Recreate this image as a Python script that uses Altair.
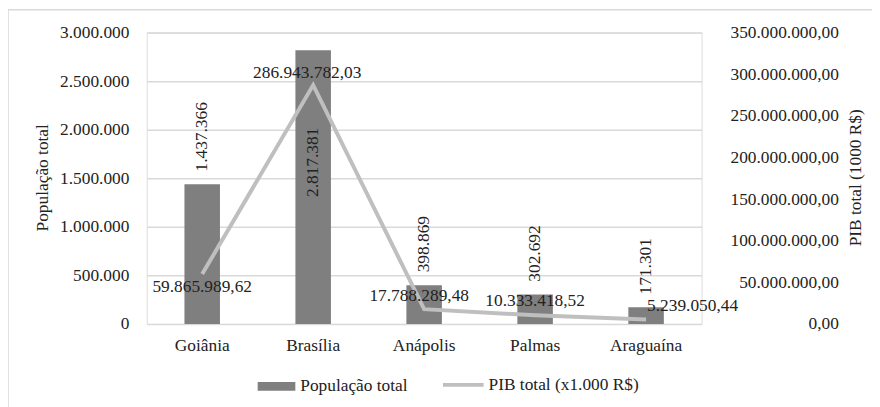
import altair as alt
import pandas as pd

cidades = ["Goiânia", "Brasília", "Anápolis", "Palmas", "Araguaína"]
populacao = [1437366, 2817381, 398869, 302692, 171301]
pib = [59865989.62, 286943782.03, 17788289.48, 10333418.52, 5239050.44]
pop_ticks = [0, 500000, 1000000, 1500000, 2000000, 2500000, 3000000]
pib_ticks = [0, 50000000, 100000000, 150000000, 200000000, 250000000, 300000000, 350000000]
serie_pop = "População total"
serie_pib = "PIB total (x1.000 R$)"
titulo_esq = "População total"
titulo_dir = "PIB total (1000 R$)"

df = pd.DataFrame({"cidade": cidades, "pop": populacao, "pib": pib})

FONT = "Liberation Serif"
TXT = "#222222"
FS = 17.5
BAR = "#7F7F7F"
LINE = "#BFBFBF"
GRID = "#D9D9D9"

x_axis = alt.Axis(title=None, labelAngle=0, domain=False, ticks=False, labelPadding=13,
                  labelFontSize=FS, labelFont=FONT, labelColor=TXT)
x_enc = alt.X("cidade:N", sort=cidades,
              scale=alt.Scale(paddingInner=0.68, paddingOuter=0.34), axis=x_axis)

pop_axis = alt.Axis(values=pop_ticks, format=",d", grid=True, gridColor=GRID, gridWidth=1.5,
                    domain=False, ticks=False, labelPadding=18, labelFontSize=FS,
                    labelFont=FONT, labelColor=TXT, title=titulo_esq, titleFont=FONT,
                    titleFontSize=FS, titleFontWeight="normal", titleColor=TXT,
                    titleAngle=270, titleX=-105, titleY=146, titleAlign="center",
                    titleBaseline="middle")
y_pop = alt.Y("pop:Q", scale=alt.Scale(domain=[0, 3000000], nice=False), axis=pop_axis)

pib_axis = alt.Axis(orient="right", values=pib_ticks, format=",.2f", grid=False, domain=False,
                    ticks=False, labelAlign="right", labelPadding=138, labelFontSize=FS,
                    labelFont=FONT, labelColor=TXT, title=titulo_dir, titleFont=FONT,
                    titleFontSize=FS, titleFontWeight="normal", titleColor=TXT,
                    titleAngle=270, titleX=155, titleY=146, titleAlign="center",
                    titleBaseline="middle")
y_pib = alt.Y("pib:Q", scale=alt.Scale(domain=[0, 350000000], nice=False), axis=pib_axis)

base = alt.Chart(df)

bars = base.mark_bar().encode(
    x=x_enc, y=y_pop,
    fill=alt.Fill("s1:N", scale=alt.Scale(range=[BAR]),
                  legend=alt.Legend(title=None, orient="none", legendX=112, legendY=338,
                                    symbolType="M-1,-0.237H1V0.237H-1Z", symbolSize=1444,
                                    symbolStrokeWidth=0, labelFontSize=FS, labelFont=FONT,
                                    labelColor=TXT, labelOffset=5)),
).transform_calculate(s1="'" + serie_pop + "'")

txt_kw = dict(font=FONT, fontSize=FS, color=TXT)
bar_lbl = base.mark_text(angle=270, align="left", baseline="middle", dx=13, **txt_kw).encode(
    x=x_enc, y=y_pop, text=alt.Text("pop:Q", format=",d")
).transform_filter(alt.datum.cidade != "Brasília")
bar_lbl_bsb = base.mark_text(angle=270, align="left", baseline="middle", dx=-148, **txt_kw).encode(
    x=x_enc, y=y_pop, text=alt.Text("pop:Q", format=",d")
).transform_filter(alt.datum.cidade == "Brasília")

left = alt.layer(bars, bar_lbl, bar_lbl_bsb)

line = base.mark_line(strokeWidth=4).encode(
    x=x_enc, y=y_pib,
    stroke=alt.Stroke("s2:N", scale=alt.Scale(range=[LINE]),
                      legend=alt.Legend(title=None, orient="none", legendX=297, legendY=333,
                                        symbolType="stroke", symbolSize=1681,
                                        symbolStrokeWidth=4, labelFontSize=FS, labelFont=FONT,
                                        labelColor=TXT, labelOffset=3)),
).transform_calculate(s2="'" + serie_pib + "'")

pib_txt = alt.Text("pib:Q", format=",.2f")
lbl_ana = base.mark_text(align="center", baseline="middle", dx=-5, dy=-13, **txt_kw).encode(
    x=x_enc, y=y_pib, text=pib_txt
).transform_filter(alt.datum.cidade == "Anápolis")
lbl_pal = base.mark_text(align="center", baseline="middle", dy=-14, **txt_kw).encode(
    x=x_enc, y=y_pib, text=pib_txt
).transform_filter(alt.datum.cidade == "Palmas")
lbl_goi = base.mark_text(align="center", baseline="middle", dy=13, **txt_kw).encode(
    x=x_enc, y=y_pib, text=pib_txt
).transform_filter(alt.datum.cidade == "Goiânia")
lbl_bsb = base.mark_text(align="center", baseline="middle", dx=-6, dy=-12, **txt_kw).encode(
    x=x_enc, y=y_pib, text=pib_txt
).transform_filter(alt.datum.cidade == "Brasília")
lbl_ara = base.mark_text(align="left", baseline="middle", dx=1, dy=-14, **txt_kw).encode(
    x=x_enc, y=y_pib, text=pib_txt
).transform_filter(alt.datum.cidade == "Araguaína")

right = alt.layer(line, lbl_ana, lbl_pal, lbl_goi, lbl_bsb, lbl_ara)

frame = alt.Chart(pd.DataFrame({"f": [0]})).mark_rect(fill=None, stroke=GRID, strokeWidth=1.5).encode(
    x=alt.value(-140), x2=alt.value(760), y=alt.value(-23), y2=alt.value(420)
)

chart = alt.layer(frame, left, right).resolve_scale(
    y="independent", fill="independent", stroke="independent"
).properties(
    width=560, height=294, autosize=alt.AutoSizeParams(type="none"),
    padding={"left": 140, "top": 23, "right": 172, "bottom": 82}
).configure_view(stroke=None).configure(
    font=FONT,
    locale={"number": {"decimal": ",", "thousands": ".", "grouping": [3], "currency": ["R$ ", ""]}}
)

chart.save("out.html", embed_options={"renderer": "svg", "actions": False})
